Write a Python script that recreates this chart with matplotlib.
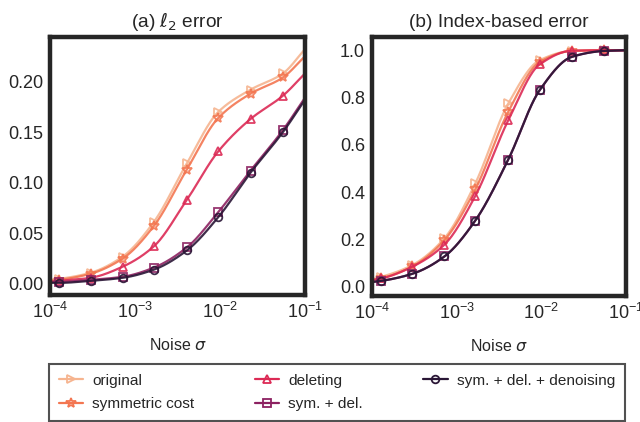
import numpy as np
import matplotlib
matplotlib.use("Agg")
import matplotlib.pyplot as plt
import seaborn as sns

sns.set_style("white")
plt.rcParams['font.family'] = ['Liberation Sans', 'DejaVu Sans']
plt.rcParams['mathtext.fontset'] = 'dejavusans'

# noise levels; first/last entries are where the curves meet the frame (no marker)
noise = [1e-4, 1.29e-4, 3.0e-4, 7.16e-4, 1.66e-3, 4.07e-3, 9.55e-3, 2.29e-2, 5.5e-2, 1e-1]

labels = ["original", "symmetric cost", "deleting", "sym. + del.", "sym. + del. + denoising"]
colors = ["#f6b48f", "#f37651", "#dc2a55", "#8c2161", "#2a1636"]
markers = [">", "*", "^", "s", "o"]

# (a) l2 error
l2_original = [0.004, 0.005, 0.011, 0.027, 0.061, 0.119, 0.170, 0.192, 0.208, 0.232]
l2_symmetric = [0.003, 0.004, 0.010, 0.025, 0.057, 0.113, 0.164, 0.188, 0.204, 0.225]
l2_deleting = [0.002, 0.003, 0.006, 0.017, 0.037, 0.083, 0.131, 0.163, 0.186, 0.208]
l2_symdel = [0.002, 0.002, 0.004, 0.007, 0.016, 0.036, 0.071, 0.112, 0.152, 0.184]
l2_denoise = [0.001, 0.001, 0.003, 0.006, 0.014, 0.033, 0.066, 0.110, 0.150, 0.182]

# (b) index-based error
idx_original = [0.032, 0.042, 0.092, 0.205, 0.437, 0.775, 0.958, 0.997, 1.0, 1.0]
idx_symmetric = [0.028, 0.036, 0.086, 0.197, 0.412, 0.740, 0.950, 0.997, 1.0, 1.0]
idx_deleting = [0.028, 0.035, 0.085, 0.178, 0.384, 0.704, 0.940, 0.998, 1.0, 1.0]
idx_symdel = [0.020, 0.025, 0.055, 0.128, 0.280, 0.538, 0.831, 0.972, 0.997, 1.0]
idx_denoise = [0.020, 0.025, 0.055, 0.128, 0.280, 0.538, 0.831, 0.972, 0.997, 1.0]


def pchip(x, y, xs):
    # monotone cubic through the points (Fritsch-Carlson)
    x = np.asarray(x, float); y = np.asarray(y, float)
    h = np.diff(x); d = np.diff(y) / h
    m = np.zeros_like(y)
    for k in range(1, len(x) - 1):
        if d[k - 1] * d[k] > 0:
            w1 = 2 * h[k] + h[k - 1]; w2 = h[k] + 2 * h[k - 1]
            m[k] = (w1 + w2) / (w1 / d[k - 1] + w2 / d[k])
    m[0] = d[0]; m[-1] = d[-1]
    i = np.clip(np.searchsorted(x, xs) - 1, 0, len(h) - 1)
    t = (xs - x[i]) / h[i]
    h00 = 2*t**3 - 3*t**2 + 1; h10 = t**3 - 2*t**2 + t
    h01 = -2*t**3 + 3*t**2; h11 = t**3 - t**2
    return h00*y[i] + h10*h[i]*m[i] + h01*y[i+1] + h11*h[i]*m[i+1]


fig = plt.figure(figsize=(6.4, 4.22), dpi=100)
ax1 = fig.add_axes([50/640, 1 - 295/422, 255/640, 258/422])
ax2 = fig.add_axes([372/640, 1 - 296/422, 254/640, 259/422])

lx = np.log10(noise)
dense = np.linspace(lx[0], lx[-1], 300)

panels = [
    (ax1, [l2_original, l2_symmetric, l2_deleting, l2_symdel, l2_denoise], r"(a) $\ell_2$ error"),
    (ax2, [idx_original, idx_symmetric, idx_deleting, idx_symdel, idx_denoise], "(b) Index-based error"),
]

for ax, series, title in panels:
    for vals, lab, c, mk in zip(series, labels, colors, markers):
        ax.plot(10**dense, pchip(lx, vals, dense), color=c, lw=1.6, alpha=0.9)
        ax.plot(noise[1:-1], vals[1:-1], linestyle="none", marker=mk, ms=5.5 if mk != "*" else 7.5,
                mfc="none", mec=c, mew=1.3, alpha=0.9)
    ax.set_xscale("log")
    ax.set_xlim(1e-4, 1e-1)
    ax.set_xticks([1e-4, 1e-3, 1e-2, 1e-1])
    ax.minorticks_off()
    ax.set_title(title, fontsize=13.8, pad=7, color="#262626")
    ax.set_xlabel(r"Noise $\sigma$", fontsize=11.5, labelpad=11, color="#262626")
    ax.tick_params(labelsize=13, colors="#262626", length=0, pad=5)
    for s in ax.spines.values():
        s.set_linewidth(3.2)
        s.set_color("#262626")

ax1.set_ylim(-0.011, 0.244)
ax1.set_yticks([0.0, 0.05, 0.10, 0.15, 0.20])
ax1.set_yticklabels(["0.00", "0.05", "0.10", "0.15", "0.20"])
ax2.set_ylim(-0.039, 1.056)
ax2.set_yticks([0.0, 0.2, 0.4, 0.6, 0.8, 1.0])

handles = [plt.Line2D([], [], color=c, marker=mk, ms=5.5 if mk != "*" else 7.5, mfc="none",
                      mec=c, mew=1.3, lw=1.6) for c, mk in zip(colors, markers)]
leg = fig.legend(handles, labels, ncol=3, loc="lower left",
                 bbox_to_anchor=(49/640, 1.5/422, 576/640, 59/422), mode="expand",
                 fontsize=11.1, frameon=True, fancybox=False, handlelength=1.6,
                 handletextpad=0.6, borderaxespad=0, labelspacing=0.6,
                 borderpad=0.62)
leg.get_frame().set_edgecolor("#262626")
leg.get_frame().set_linewidth(1.5)

fig.savefig("out.png", dpi=100)
